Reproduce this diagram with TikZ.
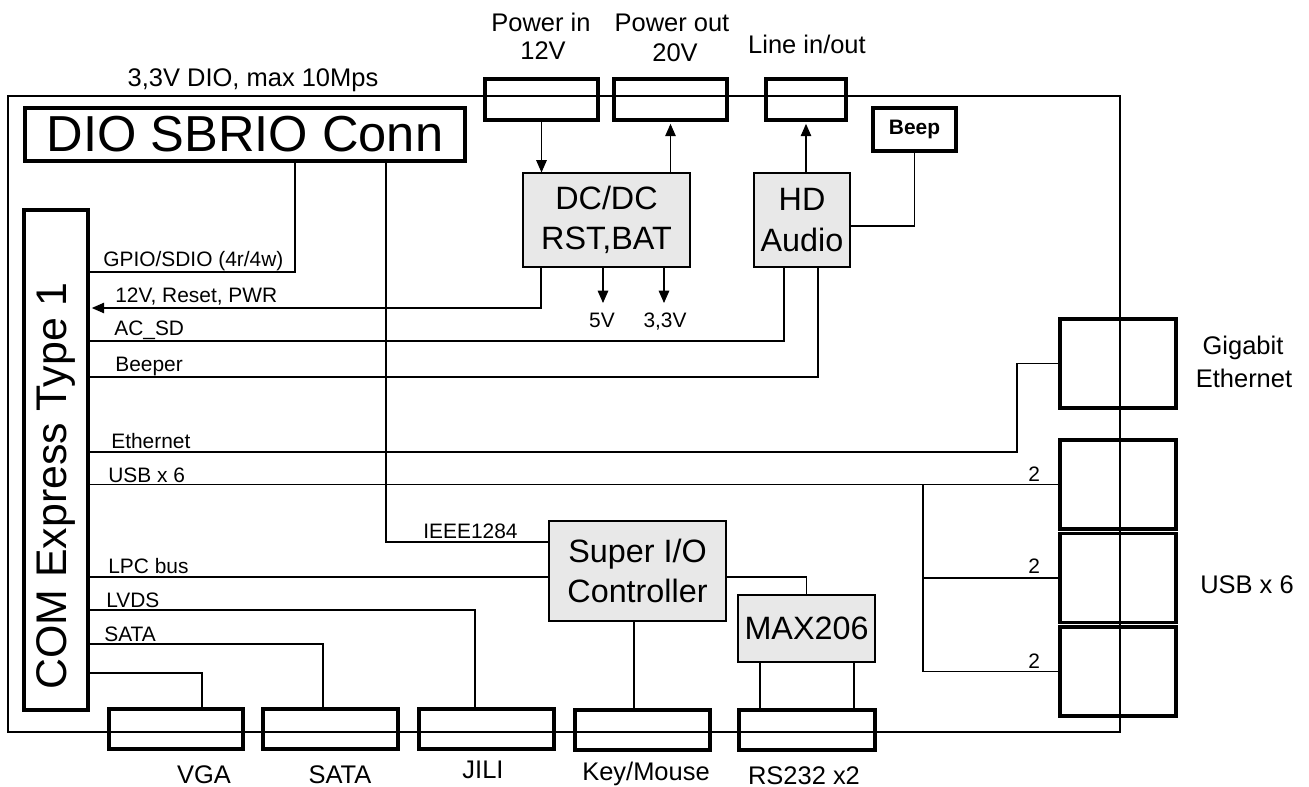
\documentclass[tikz,border=0pt]{standalone}
\usepackage{fontspec}
\setmainfont{Liberation Sans}
\usetikzlibrary{arrows.meta}
\definecolor{chipgray}{gray}{0.91}

\begin{document}
\begin{tikzpicture}[x=0.02cm, y=-0.02cm,
        conn/.style={draw, line width=2.2pt, inner sep=0pt},
        chip/.style={draw, line width=0.6pt, fill=chipgray, inner sep=0pt, align=center,
          font=\fontsize{18.4}{23}\selectfont},
        lbl/.style={anchor=base west, inner sep=0pt, font=\fontsize{11.9}{14}\selectfont},
        tag/.style={anchor=base, inner sep=0pt, font=\fontsize{14.5}{18}\selectfont},
        wire/.style={line width=0.6pt},
        arr/.style={wire, -{Triangle[length=7pt, width=6pt]}}]

      \useasboundingbox (0,0) rectangle (1309,787);

      % board
      \draw[wire] (8,96) rectangle (1120,732);

      % big connectors
      \node[conn, minimum width=8.80cm, minimum height=1.06cm,
        font=\fontsize{28.8}{30}\selectfont] (dio) at (245,134.5) {DIO SBRIO Conn};
      \node[tag] at (253,87) {3,3V DIO, max 10Mps};
      \node[conn, minimum width=1.28cm, minimum height=10.00cm] (com) at (56,460) {};
      \node[rotate=90, inner sep=0pt, font=\fontsize{24.4}{26}\selectfont] (comtxt)
        at (56,486) {COM Express Type 1};

      % top: power and audio
      \node[conn, minimum width=2.26cm, minimum height=0.82cm] (pin) at (541.5,99.5) {};
      \node[conn, minimum width=2.26cm, minimum height=0.82cm] (pout) at (670.5,99.5) {};
      \node[conn, minimum width=1.60cm, minimum height=0.82cm] (line) at (806,99.5) {};
      \node[conn, minimum width=1.66cm, minimum height=0.86cm,
        font=\bfseries\fontsize{11.9}{14}\selectfont] (beep) at (914.5,129.5) {Beep};
      \node[tag] at (541,32) {Power in};
      \node[tag] at (543,60) {12V};
      \node[tag] at (672,32) {Power out};
      \node[tag] at (675,62) {20V};
      \node[tag] at (807,54) {Line in/out};

      \node[chip, minimum width=3.34cm, minimum height=1.88cm] (dcdc) at (606.5,220) {DC/DC\\RST,BAT};
      \node[chip, minimum width=1.92cm, minimum height=1.88cm] (audio) at (802,220) {HD\\Audio};

      \draw[arr] (pin.south) -- (dcdc.north -| pin.south);
      \draw[arr, shorten >=1.1pt] (dcdc.north -| pout.south) -- (pout.south);
      \draw[arr, shorten >=1.1pt] (audio.north -| line.south) -- (line.south);
      \coordinate (bzw) at (913,226);
      \draw[wire] (beep.south) |- (audio.east |- bzw);

      \coordinate (v5w) at (603,303);
      \coordinate (v33w) at (664,303);
      \draw[arr] (dcdc.south -| v5w) -- (v5w);
      \draw[arr] (dcdc.south -| v33w) -- (v33w);
      \node[lbl, anchor=base] at (602,328) {5V};
      \node[lbl, anchor=base] at (665,328) {3,3V};

      % signals from COM Express
      \coordinate (gpiow) at (295,272);
      \draw[wire] (com.east |- gpiow) -| (dio.south -| gpiow);
      \node[lbl] at (103,267) {GPIO/SDIO (4r/4w)};

      \coordinate (pwrw) at (541,308);
      \draw[arr, shorten >=1.1pt] (dcdc.south -| pwrw) |- (com.east |- pwrw);
      \node[lbl] at (115,303) {12V, Reset, PWR};

      \coordinate (acsdw) at (784,341);
      \draw[wire] (com.east |- acsdw) -| (audio.south -| acsdw);
      \node[lbl] at (114,336) {AC\_SD};

      \coordinate (beepw) at (818,377);
      \draw[wire] (com.east |- beepw) -| (audio.south -| beepw);
      \node[lbl] at (115,372) {Beeper};

      % right: ethernet and usb
      \node[conn, minimum width=2.32cm, minimum height=1.78cm] (gbe) at (1118,363.5) {};
      \node[conn, minimum width=2.32cm, minimum height=1.78cm] (usb1) at (1118,484.5) {};
      \node[conn, minimum width=2.32cm, minimum height=1.78cm] (usb2) at (1118,578) {};
      \node[conn, minimum width=2.32cm, minimum height=1.78cm] (usb3) at (1118,671.5) {};
      \node[tag] at (1243,355) {Gigabit};
      \node[tag] at (1244,387) {Ethernet};
      \node[tag] at (1247,593) {USB x 6};

      \coordinate (ethw) at (1017,452);
      \draw[wire] (com.east |- ethw) -| (gbe.west -| ethw) -- (gbe.west);
      \node[lbl] at (111,448) {Ethernet};

      \coordinate (usbw) at (923,486);
      \draw[wire] (com.east |- usb1.west) -- (usb1.west);
      \draw[wire] (usbw |- usb1.west) |- (usb3.west);
      \draw[wire] (usbw |- usb2.west) -- (usb2.west);
      \node[lbl] at (108,482) {USB x 6};
      \node[lbl] at (1028,481) {2};
      \node[lbl] at (1028,573) {2};
      \node[lbl] at (1028,668) {2};

      % super i/o
      \node[chip, minimum width=3.54cm, minimum height=2.00cm] (sio) at (637.5,571) {Super I/O\\Controller};
      \node[chip, minimum width=2.74cm, minimum height=1.34cm] (max) at (806.5,628.5) {MAX206};

      \coordinate (ieeew) at (386,542);
      \draw[wire] (dio.south -| ieeew) |- (sio.west |- ieeew);
      \node[lbl] at (423,538) {IEEE1284};

      \coordinate (lpcw) at (549,577);
      \draw[wire] (com.east |- lpcw) -- (sio.west |- lpcw);
      \draw[wire] (sio.east |- lpcw) -| (max.north);
      \node[lbl] at (108,573) {LPC bus};

      % bottom connectors
      \node[conn, minimum width=2.68cm, minimum height=0.80cm] (vga) at (176,729) {};
      \node[conn, minimum width=2.70cm, minimum height=0.80cm] (sata) at (330.5,729) {};
      \node[conn, minimum width=2.70cm, minimum height=0.80cm] (jili) at (486.5,729) {};
      \node[conn, minimum width=2.70cm, minimum height=0.80cm] (kbd) at (642.5,730) {};
      \node[conn, minimum width=2.72cm, minimum height=0.80cm] (rs232) at (807,730) {};
      \node[tag] at (204,783) {VGA};
      \node[tag] at (340,783) {SATA};
      \node[tag] at (483,778) {JILI};
      \node[tag] at (646,780) {Key/Mouse};
      \node[tag] at (804,784) {RS232 x2};

      \coordinate (lvdsw) at (475,610);
      \draw[wire] (com.east |- lvdsw) -| (jili.north -| lvdsw);
      \node[lbl] at (106,607) {LVDS};

      \coordinate (sataw) at (323,644);
      \draw[wire] (com.east |- sataw) -| (sata.north -| sataw);
      \node[lbl] at (104,641) {SATA};

      \coordinate (vgaw) at (202,673);
      \draw[wire] (com.east |- vgaw) -| (vga.north -| vgaw);

      \coordinate (kbdw) at (634,0);
      \draw[wire] (sio.south -| kbdw) -- (kbd.north -| kbdw);

      \coordinate (rsaw) at (760,0);
      \coordinate (rsbw) at (854,0);
      \draw[wire] (max.south -| rsaw) -- (rs232.north -| rsaw);
      \draw[wire] (max.south -| rsbw) -- (rs232.north -| rsbw);
    \end{tikzpicture}
\end{document}
